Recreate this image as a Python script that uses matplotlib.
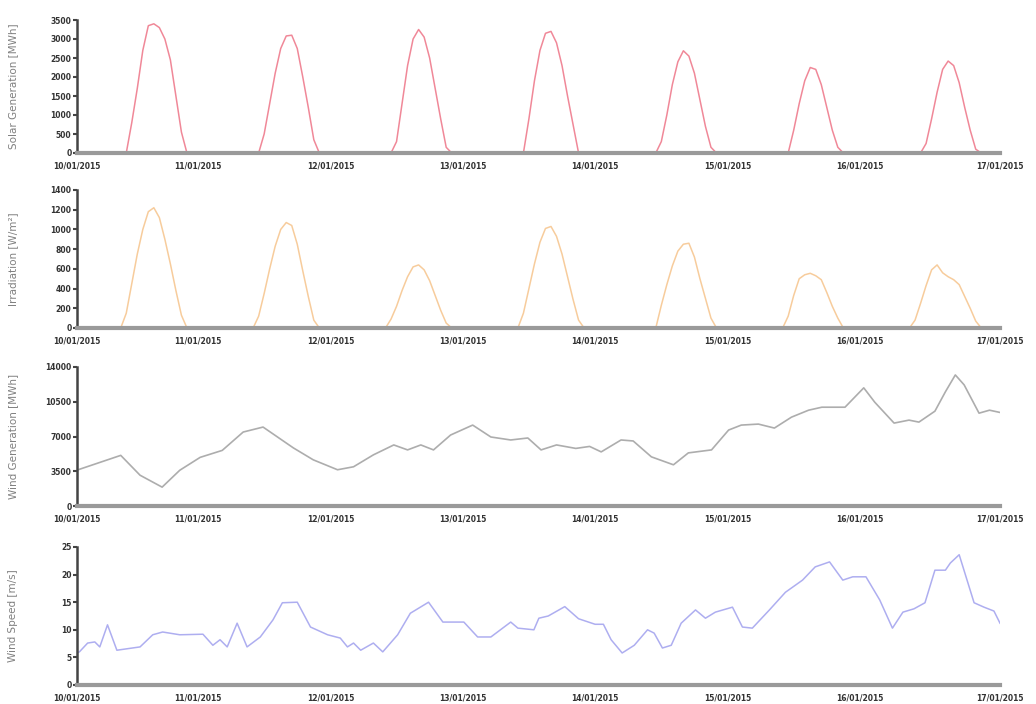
import matplotlib
matplotlib.use("Agg")
import matplotlib.pyplot as plt
import matplotlib.dates as mdates
import numpy as np

# hours counted from 10/01/2015 00:00
solar_hours = [0, 11, 12, 13, 14, 15, 16, 17, 18, 19, 20, 21, 22,
               35, 36, 37, 38, 39, 40, 41, 42, 43, 44, 45, 46,
               59, 60, 61, 62, 63, 64, 65, 66, 67, 68, 69, 70,
               83, 84, 85, 86, 87, 88, 89, 90, 91, 92, 93,
               107, 108, 109, 110, 111, 112, 113, 114, 115, 116, 117, 118,
               131, 132, 133, 134, 135, 136, 137, 138, 139, 140, 141,
               155, 156, 157, 158, 159, 160, 161, 162, 163, 164, 165, 166, 170]
solar_mwh = [0, 0, 800, 1700, 2700, 3350, 3400, 3300, 3000, 2450, 1500, 550, 0,
             0, 500, 1300, 2100, 2750, 3080, 3100, 2750, 2000, 1200, 350, 0,
             0, 300, 1300, 2300, 3000, 3250, 3050, 2500, 1700, 900, 150, 0,
             0, 900, 1900, 2700, 3150, 3200, 2900, 2300, 1500, 750, 0,
             0, 300, 1000, 1800, 2400, 2690, 2550, 2100, 1400, 700, 150, 0,
             0, 600, 1300, 1900, 2250, 2200, 1800, 1200, 600, 150, 0,
             0, 250, 900, 1600, 2200, 2420, 2300, 1850, 1200, 600, 100, 0, 0]

irr_hours = [0, 10, 11, 12, 13, 14, 15, 16, 17, 18, 19, 20, 21, 22,
             34, 35, 36, 37, 38, 39, 40, 41, 42, 43, 44, 45, 46,
             58, 59, 60, 61, 62, 63, 64, 65, 66, 67, 68, 69, 70,
             82, 83, 84, 85, 86, 87, 88, 89, 90, 91, 92, 93, 94,
             107, 108, 109, 110, 111, 112, 113, 114, 115, 116, 117, 118,
             130, 131, 132, 133, 134, 135, 136, 137, 138, 139, 140, 141,
             153, 154, 155, 156, 157, 158, 159, 160, 161, 162, 163, 164, 165, 166, 170]
irr_wm2 = [0, 0, 150, 450, 750, 1000, 1180, 1220, 1120, 900, 650, 380, 130, 0,
           0, 120, 350, 600, 830, 1000, 1070, 1040, 850, 580, 320, 80, 0,
           0, 90, 220, 380, 520, 620, 640, 590, 480, 330, 180, 50, 0,
           0, 150, 400, 650, 870, 1010, 1030, 930, 750, 520, 290, 80, 0,
           0, 230, 440, 630, 780, 850, 860, 720, 500, 300, 100, 0,
           0, 120, 330, 500, 540, 555, 530, 490, 360, 220, 100, 0,
           0, 80, 250, 430, 590, 640, 560, 520, 490, 440, 320, 200, 70, 0, 0]

wind_gen_hours = [2, 10, 13.5, 17.5, 20.7, 24.4, 28.4, 32.2, 35.8, 41.3, 44.9,
                  49.3, 52.2, 55.8, 59.5, 62, 64.4, 66.7, 69.8, 73.8, 77.1,
                  80.7, 83.8, 86.2, 89, 92.5, 95, 97.1, 100.7, 102.9, 106.2,
                  110.2, 112.9, 117.1, 120.2, 122.5, 125.6, 128.5, 131.6,
                  134.7, 137.1, 141.3, 144.7, 146.7, 150.2, 152.9, 154.7,
                  157.6, 159.5, 161.3, 162.9, 165.6, 167.5, 170]
wind_gen_mwh = [3600, 5100, 3100, 1900, 3600, 4900, 5600, 7450, 7950, 5850, 4650,
                3650, 3950, 5150, 6150, 5650, 6150, 5650, 7150, 8150, 6950,
                6650, 6850, 5650, 6150, 5800, 6000, 5450, 6650, 6550, 4950,
                4150, 5350, 5650, 7650, 8150, 8250, 7850, 8950,
                9650, 9950, 9950, 11900, 10450, 8350, 8650, 8450,
                9550, 11500, 13200, 12200, 9350, 9650, 9350]

wind_speed_hours = [2, 2.5, 4, 5.3, 6.2, 7.6, 9.3, 13.5, 15.8, 17.6, 20.7, 24.9,
                    26.7, 28, 29.3, 31.1, 32.9, 35.3, 37.6, 39.3, 42, 44.4,
                    47.5, 49.8, 51.1, 52.2, 53.5, 55.8, 57.5, 60.2, 62.5, 65.8,
                    68.4, 72.2, 74.7, 77.1, 80.7, 82, 84.9, 85.8, 87.5, 90.5,
                    93, 96, 97.5, 98.9, 100.9, 103.1, 105.5, 106.7, 108.2,
                    109.8, 111.6, 114.2, 116, 117.8, 120.9, 122.7, 124.5,
                    127.6, 130.5, 133.6, 135.9, 138.5, 140.9, 142.7, 145.1,
                    147.6, 149.9, 151.8, 153.8, 155.8, 157.6, 159.5, 160.4,
                    162, 164.7, 166.5, 168.3, 169.4]
wind_speed_ms = [5.8, 6.0, 7.6, 7.8, 6.9, 10.9, 6.3, 6.9, 9.1, 9.6, 9.1, 9.2,
                 7.2, 8.2, 6.9, 11.2, 6.9, 8.7, 11.8, 14.9, 15.0, 10.5,
                 9.1, 8.5, 6.9, 7.6, 6.3, 7.6, 6.0, 9.1, 13.0, 15.0,
                 11.4, 11.4, 8.7, 8.7, 11.4, 10.3, 10.0, 12.1, 12.5, 14.2,
                 12.0, 11.0, 11.0, 8.2, 5.8, 7.2, 10.0, 9.4, 6.7,
                 7.2, 11.2, 13.6, 12.1, 13.2, 14.1, 10.5, 10.3,
                 13.6, 16.8, 19.0, 21.4, 22.3, 19.0, 19.6, 19.6,
                 15.4, 10.3, 13.2, 13.8, 14.9, 20.8, 20.8, 22.1,
                 23.6, 14.9, 14.1, 13.4, 11.2]

day_labels = ["10/01/2015", "11/01/2015", "12/01/2015", "13/01/2015",
              "14/01/2015", "15/01/2015", "16/01/2015", "17/01/2015"]

T0 = np.datetime64("2015-01-10T00:00")


def to_time(hours):
    return T0 + (np.asarray(hours, dtype=float) * 3600).astype("timedelta64[s]")


def style_axis(ax, ylim, yticks, ylabel):
    start, end = 2.07, 169.4
    ax.set_xlim(to_time([start])[0], to_time([end])[0])
    ax.set_ylim(*ylim)
    ax.set_yticks(yticks)
    ax.set_yticklabels([str(v) for v in yticks])
    # day ticks; the edge labels stay pinned to the axis ends
    pos = [start] + [24 * d for d in range(1, 7)] + [end]
    ax.set_xticks(mdates.date2num(to_time(pos)))
    ax.set_xticklabels(day_labels)
    for s in ("top", "right"):
        ax.spines[s].set_visible(False)
    ax.spines["left"].set_color("#444444")
    ax.spines["left"].set_linewidth(1.8)
    ax.spines["bottom"].set_color("#9a9a9a")
    ax.spines["bottom"].set_linewidth(3)
    ax.tick_params(axis="y", direction="out", length=3, width=1.5,
                   color="#444444", labelsize=5.5, labelcolor="#333333", pad=1)
    ax.tick_params(axis="x", length=0, labelsize=5.5, labelcolor="#333333", pad=6)
    for lab in ax.get_xticklabels() + ax.get_yticklabels():
        lab.set_fontweight("bold")
    ax.set_ylabel(ylabel, fontsize=7.5, color="#808080")
    ax.yaxis.set_label_coords(-0.064, 0.5)


fig = plt.figure(figsize=(10.36, 7.04), dpi=100)
left, width = 77 / 1036, 923 / 1036
rows = [(20, 153), (190, 328), (367, 506), (547, 685)]
axes = [fig.add_axes([left, 1 - b / 704, width, (b - t) / 704]) for t, b in rows]

axes[0].plot(to_time(solar_hours), solar_mwh, color="#f08898", lw=1.1)
style_axis(axes[0], (0, 3500), list(range(0, 3501, 500)), "Solar Generation [MWh]")

axes[1].plot(to_time(irr_hours), irr_wm2, color="#f7cc9c", lw=1.1)
style_axis(axes[1], (0, 1400), list(range(0, 1401, 200)), "Irradiation [W/m²]")

axes[2].plot(to_time(wind_gen_hours), wind_gen_mwh, color="#adadad", lw=1.2)
style_axis(axes[2], (0, 14000), [0, 3500, 7000, 10500, 14000], "Wind Generation [MWh]")

axes[3].plot(to_time(wind_speed_hours), wind_speed_ms, color="#aeaef0", lw=1.1)
style_axis(axes[3], (0, 25), [0, 5, 10, 15, 20, 25], "Wind Speed [m/s]")

fig.savefig("out.png", dpi=100)
plt.close(fig)
